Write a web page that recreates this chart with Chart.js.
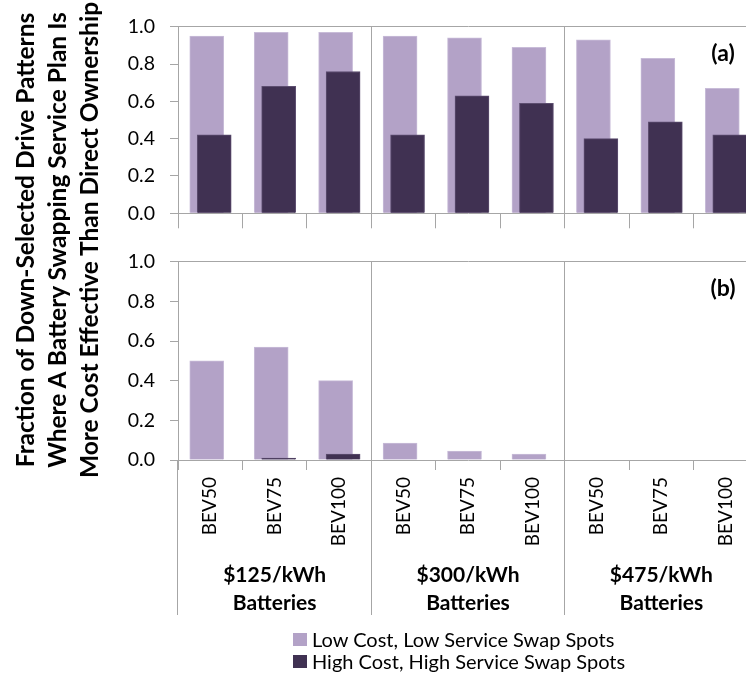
<!DOCTYPE html>
<html>
<head>
<meta charset="utf-8">
<script src="https://cdn.jsdelivr.net/npm/chart.js@4/dist/chart.umd.min.js"></script>
<style>
  html, body { margin: 0; padding: 0; background: #fff; overflow: hidden; width: 746px; height: 680px; }
  #page { position: relative; width: 746px; height: 680px; overflow: hidden; font-family: Lato, "Open Sans", sans-serif; }
  #boxA { position: absolute; left: 0; top: 0; }
  #boxB { position: absolute; left: 0; top: 235px; }
  #ytitle {
    position: absolute; left: -183px; top: 192px; width: 480px; height: 96px;
    transform: rotate(-90deg); transform-origin: 50% 50%;
    text-align: center; font-weight: bold; font-size: 24.5px; line-height: 32px; color: #000;
    white-space: nowrap;
  }
  #legend { position: absolute; left: 293px; top: 628px; font-size: 20px; color: #000; }
  #legend .row { display: flex; align-items: center; height: 22px; white-space: nowrap; }
  #legend .sw { width: 14px; height: 13px; margin-right: 5px; }
</style>
</head>
<body>
<div id="page">
  <canvas id="boxA" width="760" height="240"></canvas>
  <canvas id="boxB" width="760" height="445"></canvas>
  <div id="ytitle">Fraction of Down-Selected Drive Patterns<br>Where A Battery Swapping Service Plan Is<br>More Cost Effective Than Direct Ownership</div>
  <div id="legend"></div>
</div>
<script>
// categories and groups
const categories = ['BEV50', 'BEV75', 'BEV100', 'BEV50', 'BEV75', 'BEV100', 'BEV50', 'BEV75', 'BEV100'];
const batteryGroups = [['$125/kWh', 'Batteries'], ['$300/kWh', 'Batteries'], ['$475/kWh', 'Batteries']];
const seriesNames = ['Low Cost, Low Service Swap Spots', 'High Cost, High Service Swap Spots'];
const yTicks = [0, 0.2, 0.4, 0.6, 0.8, 1.0];

// panel (a)
const lowServiceA = [0.95, 0.97, 0.97, 0.95, 0.94, 0.89, 0.93, 0.83, 0.67];
const highServiceA = [0.42, 0.68, 0.76, 0.42, 0.63, 0.59, 0.40, 0.49, 0.42];
// panel (b)
const lowServiceB = [0.50, 0.57, 0.40, 0.085, 0.045, 0.03, 0, 0, 0];
const highServiceB = [0, 0.01, 0.03, 0, 0, 0, 0, 0, 0];

const LIGHT = '#b3a2c7';
const DARK = '#403152';
const AXIS = '#a6a6a6';

Chart.defaults.font.family = 'Lato, "Open Sans", sans-serif';
Chart.defaults.color = '#000';

// excel-like overlap: the two series sit slightly left / right of the category centre
const lowShift = -0.054;
const highShift = 0.062;

var toPoints = (values) => values.map((v, i) => ({ x: i, y: v }));

var hiddenIndexAxis = (shift) => {
    return { type: 'linear', display: false, offset: false, min: -0.5 - shift, max: categories.length - 0.5 - shift };
}

var panelTag = {
    id: 'panelTag',
    afterDraw(chart, args, opts) {
        const { ctx, chartArea } = chart;
        ctx.save();
        ctx.font = 'bold 23px Lato, "Open Sans", sans-serif';
        ctx.fillStyle = '#000';
        ctx.textAlign = 'center';
        ctx.textBaseline = 'middle';
        ctx.fillText(opts.text, chartArea.right - 35, chartArea.top + 27);
        ctx.restore();
    }
};

var buildChart = (id, low, high, tag, withLabels) => {
    const scales = {
        x: {
            type: 'category',
            offset: true,
            border: { color: AXIS },
            grid: {
                offset: true,
                color: (c) => (c.index % 3 === 0 ? AXIS : 'transparent'),
                tickColor: AXIS,
                tickLength: withLabels ? 10 : 15
            },
            ticks: withLabels
                ? { minRotation: 90, maxRotation: 90, padding: 7, autoSkip: false, font: { size: 19 } }
                : { display: false },
            afterFit: (s) => { s.height = withLabels ? 220 : 18; }
        },
        xLow: hiddenIndexAxis(lowShift),
        xHigh: hiddenIndexAxis(highShift),
        y: {
            min: 0,
            max: 1,
            border: { color: AXIS },
            grid: {
                color: (c) => (c.tick && Math.abs(c.tick.value - 1) < 1e-9 ? AXIS : 'transparent'),
                tickColor: AXIS,
                tickLength: 8
            },
            afterBuildTicks: (s) => { s.ticks = yTicks.map((v) => ({ value: v })); },
            ticks: {
                padding: 15,
                font: { size: 19.5 },
                callback: (value) => Number(value).toFixed(1)
            },
            afterFit: (s) => { s.width = 178; }
        }
    };
    if (withLabels) {
        scales.xGroup = {
            type: 'category',
            labels: batteryGroups,
            position: { y: 0 },
            offset: true,
            border: { display: false },
            grid: { offset: true, drawOnChartArea: false, tickLength: 155, tickColor: AXIS },
            ticks: { padding: -54, maxRotation: 0, autoSkip: false, font: { size: 21, weight: 'bold', lineHeight: 1.33 } }
        };
    }
    return new Chart(document.getElementById(id), {
        type: 'bar',
        data: {
            labels: categories,
            datasets: [{
                label: seriesNames[0],
                data: toPoints(low),
                xAxisID: 'xLow',
                backgroundColor: LIGHT,
                borderColor: '#c8bcd8',
                borderWidth: 1,
                barThickness: 34,
                grouped: false,
                order: 2
            }, {
                label: seriesNames[1],
                data: toPoints(high),
                xAxisID: 'xHigh',
                backgroundColor: DARK,
                borderColor: '#5d4e70',
                borderWidth: 1,
                barThickness: 34,
                grouped: false,
                order: 1
            }]
        },
        options: {
            responsive: false,
            animation: false,
            layout: { padding: { top: withLabels ? 18 : 16, right: 2, left: 0, bottom: 0 } },
            plugins: {
                legend: { display: false },
                tooltip: { enabled: false },
                panelTag: { text: tag }
            },
            scales: scales
        },
        plugins: [panelTag]
    });
}

buildChart('boxA', lowServiceA, highServiceA, '(a)', false);
buildChart('boxB', lowServiceB, highServiceB, '(b)', true);

// legend
var legendEl = document.getElementById('legend');
[LIGHT, DARK].forEach((col, i) => {
    const row = document.createElement('div');
    row.className = 'row';
    const sw = document.createElement('span');
    sw.className = 'sw';
    sw.style.background = col;
    const txt = document.createElement('span');
    txt.textContent = seriesNames[i];
    row.appendChild(sw);
    row.appendChild(txt);
    legendEl.appendChild(row);
});
</script>
</body>
</html>
